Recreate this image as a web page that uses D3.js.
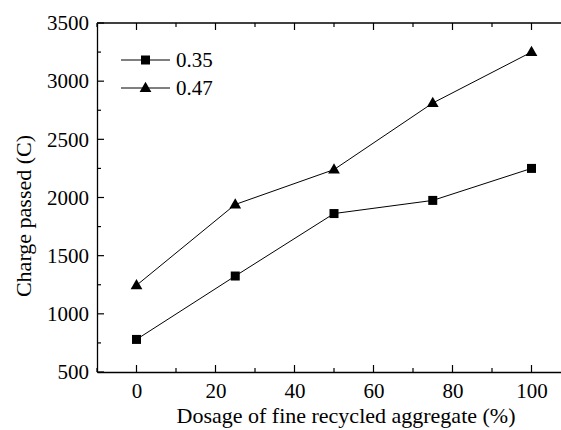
<!DOCTYPE html>
<html>
<head>
<meta charset="utf-8">
<script src="https://cdn.jsdelivr.net/npm/d3@7"></script>
<style>
  body { margin: 0; background: #fff; }
</style>
</head>
<body>
<div id="chart"></div>
<script>
// dosage of fine recycled aggregate (%)
const dosage = [0, 25, 50, 75, 100];
// charge passed (C) per water-cement ratio
const w035 = [780, 1325, 1862, 1975, 2250];
const w047 = [1245, 1940, 2240, 2812, 3250];
const seriesNames = ['0.35', '0.47'];
const xTicks = [0, 20, 40, 60, 80, 100];
const yTicks = [500, 1000, 1500, 2000, 2500, 3000, 3500];

const FONT = 'Liberation Serif';
const W = 561, H = 430;
const margin = {left: 97, top: 23, right: -10, bottom: 58};

const svg = d3.select('#chart').append('svg')
  .attr('width', W).attr('height', H)
  .attr('font-family', FONT)
  .style('display', 'block');

const x = d3.scaleLinear().domain([-10, 110]).range([margin.left, W - margin.right]);
const y = d3.scaleLinear().domain([500, 3500]).range([H - margin.bottom, margin.top]);

// axes
const bottom = svg.append('g')
  .attr('transform', `translate(0,${y(500)})`)
  .call(d3.axisBottom(x).tickValues(xTicks).tickFormat(d3.format('d')).tickSize(0).tickPadding(11));
const left = svg.append('g')
  .attr('transform', `translate(${x(-10)},0)`)
  .call(d3.axisLeft(y).tickValues(yTicks).tickFormat(d3.format('d')).tickSize(0).tickPadding(8));
svg.append('line')
  .attr('x1', x(-10)).attr('x2', x(110))
  .attr('y1', y(3500)).attr('y2', y(3500))
  .attr('stroke', '#000').attr('stroke-width', 1.3);

[bottom, left].forEach(g => {
  g.attr('font-family', FONT).attr('font-size', 21);
  g.select('.domain').attr('stroke-width', 1.3);
  g.selectAll('text').attr('fill', '#000');
});

// inward ticks, major and minor
const xMinor = d3.range(-10, 111, 10);
const yMinor = d3.range(500, 3501, 250);
const tickG = svg.append('g').attr('stroke', '#000').attr('stroke-width', 1.2);
xMinor.forEach(v => {
  const len = v % 20 === 0 ? 7 : 4;
  tickG.append('line').attr('x1', x(v)).attr('x2', x(v))
    .attr('y1', y(500)).attr('y2', y(500) - len);
  tickG.append('line').attr('x1', x(v)).attr('x2', x(v))
    .attr('y1', y(3500)).attr('y2', y(3500) + len);
});
yMinor.forEach(v => {
  const len = v % 500 === 0 ? 7 : 4;
  tickG.append('line').attr('x1', x(-10)).attr('x2', x(-10) + len)
    .attr('y1', y(v)).attr('y2', y(v));
});

// axis titles
svg.append('text')
  .attr('x', 346).attr('y', 423)
  .attr('text-anchor', 'middle').attr('font-size', 22)
  .text('Dosage of fine recycled aggregate (%)');
svg.append('text')
  .attr('transform', 'translate(31,216) rotate(-90)')
  .attr('text-anchor', 'middle').attr('font-size', 22)
  .text('Charge passed (C)');

// series
const line = d3.line().x((d, i) => x(dosage[i])).y(d => y(d));
const triangle = d3.symbol().type(d3.symbolTriangle).size(60);

function drawMarker(g, type, cx, cy) {
  if (type === 'square') {
    g.append('rect').attr('x', cx - 4.5).attr('y', cy - 4.5)
      .attr('width', 9).attr('height', 9).attr('fill', '#000');
  } else {
    g.append('path').attr('d', triangle())
      .attr('transform', `translate(${cx},${cy + 0.5})`).attr('fill', '#000');
  }
}

const series = [
  {name: seriesNames[0], values: w035, marker: 'square'},
  {name: seriesNames[1], values: w047, marker: 'triangle'}
];

const plot = svg.append('g');
series.forEach(s => {
  plot.append('path').datum(s.values)
    .attr('d', line).attr('fill', 'none')
    .attr('stroke', '#000').attr('stroke-width', 1);
  s.values.forEach((v, i) => drawMarker(plot, s.marker, x(dosage[i]), y(v)));
});

// legend
const legend = svg.append('g');
series.forEach((s, i) => {
  const ly = 60 + i * 28;
  legend.append('line').attr('x1', 121).attr('x2', 170)
    .attr('y1', ly).attr('y2', ly).attr('stroke', '#000').attr('stroke-width', 1);
  drawMarker(legend, s.marker, 145.5, ly);
  legend.append('text').attr('x', 176).attr('y', ly + 7)
    .attr('font-size', 21).text(s.name);
});
</script>
</body>
</html>
